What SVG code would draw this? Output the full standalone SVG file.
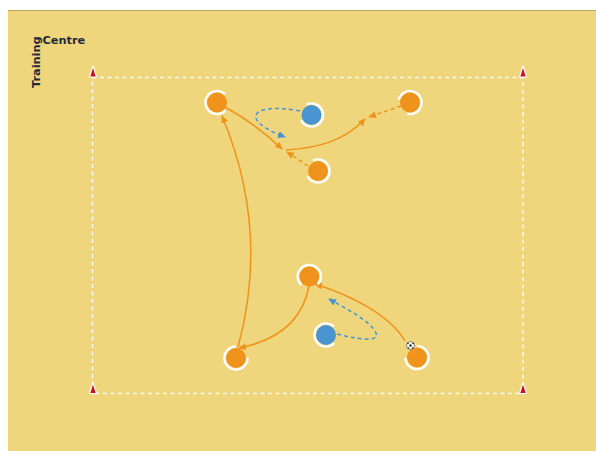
<svg xmlns="http://www.w3.org/2000/svg" width="596" height="451" viewBox="0 0 596 451">
<style>
.ring{fill:none;stroke:#ffffff;stroke-width:2.4;stroke-dasharray:54 18.2}
.pl{fill:#F0931C}
.bl{fill:#4A95D1}
.field{fill:none;stroke:#ffffff;stroke-width:1.4;stroke-dasharray:4 3.5;opacity:0.9}
.run{fill:none;stroke:#F0931C;stroke-width:1.5}
.pass{fill:none;stroke:#F0931C;stroke-width:1.5;stroke-dasharray:4 3}
.brun{fill:none;stroke:#4A95D1;stroke-width:1.5;stroke-dasharray:4 3}
.cone{fill:#C8101E;stroke:#ffffff;stroke-width:1.2;stroke-linejoin:round}
.title{font-family:"DejaVu Sans",sans-serif;font-weight:bold;font-size:11.3px;fill:#1f2a3c}
</style>
<defs>
<marker id="ao" markerWidth="8" markerHeight="7" refX="7" refY="3.5" orient="auto" markerUnits="userSpaceOnUse">
<path d="M0,0 L8,3.5 L0,7 z" fill="#F0931C"/>
</marker>
<marker id="ab" markerWidth="8" markerHeight="7" refX="7" refY="3.5" orient="auto" markerUnits="userSpaceOnUse">
<path d="M0,0 L8,3.5 L0,7 z" fill="#4A95D1"/>
</marker>
</defs>
<rect x="0" y="0" width="596" height="451" fill="#ffffff"/>
<rect x="8" y="10" width="588" height="441" fill="#EFD67C"/>
<line x1="8" y1="10.5" x2="596" y2="10.5" stroke="#B9A862" stroke-width="1"/>
<g id="title">
<text class="title" transform="translate(39.5,88) rotate(-90)">Training</text>
<text class="title" x="42.5" y="43.5">Centre</text>
</g>
<g id="field">
<rect class="field" x="92.5" y="77.5" width="430.5" height="316"/>
</g>
<g id="cones">
<path class="cone" d="M93,66 L96.5,77 L89.5,77 z"/>
<path class="cone" d="M523,66 L526.5,77 L519.5,77 z"/>
<path class="cone" d="M93,382.5 L96.5,393.5 L89.5,393.5 z"/>
<path class="cone" d="M523,382.5 L526.5,393.5 L519.5,393.5 z"/>
</g>
<g id="connectors">
<path class="run" d="M225,107 Q256,124 282,149" marker-end="url(#ao)"/>
<path class="run" d="M286,150 C320,148 345,140 365,119" marker-end="url(#ao)"/>
<path class="pass" d="M401,106 L369,117" marker-end="url(#ao)"/>
<path class="pass" d="M308,166 L287,152" marker-end="url(#ao)"/>
<path class="brun" d="M300,111 C255,102 235,118 285,137" marker-end="url(#ab)"/>
<path class="run" d="M405,341 C390,315 350,295 315,284" marker-end="url(#ao)"/>
<path class="run" d="M309,286 C303,318 280,340 239,348" marker-end="url(#ao)"/>
<path class="brun" d="M337,334 C360,340 380,342 376,333 C372,322 345,308 329,299" marker-end="url(#ab)"/>
<path class="run" d="M238,347 Q270,230 222,116" marker-end="url(#ao)"/>
</g>
<g id="p1"><circle class="pl" cx="217" cy="102.5" r="10"/><circle class="ring" cx="217" cy="102.5" r="11.6" transform="rotate(45 217 102.5)"/></g>
<g id="b1"><circle class="bl" cx="311.5" cy="115" r="10"/><circle class="ring" cx="311.5" cy="115" r="11.6" transform="rotate(245 311.5 115)"/></g>
<g id="p2"><circle class="pl" cx="410" cy="102.5" r="10"/><circle class="ring" cx="410" cy="102.5" r="11.6" transform="rotate(195 410 102.5)"/></g>
<g id="p3"><circle class="pl" cx="318" cy="171" r="10"/><circle class="ring" cx="318" cy="171" r="11.6" transform="rotate(245 318 171)"/></g>
<g id="p4"><circle class="pl" cx="309.3" cy="276.5" r="10"/><circle class="ring" cx="309.3" cy="276.5" r="11.6" transform="rotate(135 309.3 276.5)"/></g>
<g id="b2"><circle class="bl" cx="326" cy="335" r="10"/><circle class="ring" cx="326" cy="335" r="11.6" transform="rotate(45 326 335)"/></g>
<g id="p5"><circle class="pl" cx="236" cy="358" r="10"/><circle class="ring" cx="236" cy="358" r="11.6" transform="rotate(0 236 358)"/></g>
<g id="p6"><circle class="pl" cx="417" cy="357.5" r="10"/><circle class="ring" cx="417" cy="357.5" r="11.6" transform="rotate(270 417 357.5)"/></g>
<g id="ball">
<circle cx="410.5" cy="345.5" r="4" fill="#ffffff" stroke="#333" stroke-width="0.6"/>
<circle cx="410.5" cy="345.5" r="1.2" fill="#222"/>
<circle cx="408" cy="343.5" r="0.8" fill="#222"/>
<circle cx="413" cy="343.5" r="0.8" fill="#222"/>
<circle cx="408.5" cy="348" r="0.8" fill="#222"/>
<circle cx="412.5" cy="348" r="0.8" fill="#222"/>
</g>
</svg>
